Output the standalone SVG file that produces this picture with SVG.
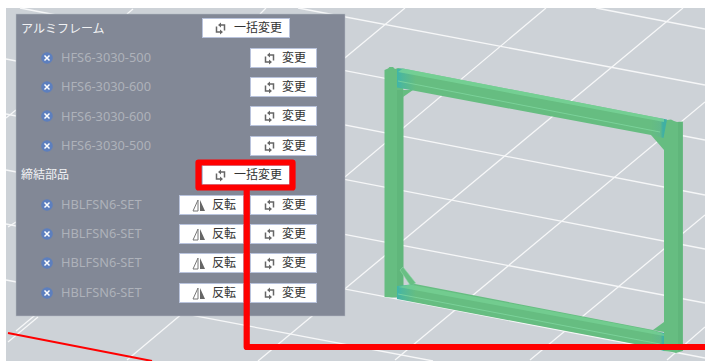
<svg xmlns="http://www.w3.org/2000/svg" width="705" height="361" viewBox="0 0 705 361">
<style>
.grid{stroke:#f6f7f8;stroke-width:1.3;fill:none}
.btn{fill:#fff;stroke:#b9c3dc;stroke-width:1}
.t{font-family:"Noto Sans CJK JP","Noto Sans",sans-serif;font-size:12px;fill:#333}
.h{font-family:"Noto Sans CJK JP","Noto Sans",sans-serif;font-size:12px;fill:#f1f2f4}
.n{font-family:"Noto Sans","Noto Sans CJK JP",sans-serif;font-size:12.8px;fill:#aeb2ba}
.post{fill:#66bd81}
.postd{fill:#60b67b}
.hl{stroke:#82d8a2;stroke-width:1;fill:none;stroke-opacity:.75}
.ic{fill:none;stroke:#666;stroke-width:1.5}
</style>
<defs>
<linearGradient id="railL" gradientUnits="userSpaceOnUse" x1="397" x2="667" y1="0" y2="0"><stop offset="0" stop-color="#3fb5a8"/><stop offset="0.02" stop-color="#4fb89a"/><stop offset="0.07" stop-color="#66bd81"/><stop offset="0.94" stop-color="#66bd81"/><stop offset="0.975" stop-color="#62b98a"/><stop offset="0.985" stop-color="#3fb0a4"/></linearGradient>
<g id="swap"><path class="ic" d="M1.500 3.500V9H5.500M9.500 7.500V2H5.500"/><path d="M5 6.500L8 9L5 11.500ZM6 -0.500L3 2L6 4.500Z" fill="#666"/></g>
<g id="flip"><path d="M6 1V12H1Z" fill="none" stroke="#777" stroke-width="1"/><path d="M8 1L13 12H8Z" fill="#666"/></g>
<g id="x"><circle r="5.800" fill="#5d7fbe"/><path d="M-2.500-2.500L2.500 2.500M2.500-2.500L-2.500 2.500" stroke="#fff" stroke-width="1.500"/></g>
</defs>
<rect x="6" y="8" width="699" height="353" fill="#cdd2d7"/>
<g id="grid" class="grid">
<path d="M596 8L705 29M298 8L705 85M20 8L705 140M6 59L705 195M6 114L705 249M6 170L705 303M6 224L705 358M6 280L433 361"/>
<path d="M6 118L16 110M133 9L127 14M266 8L260 14M405 8L16 331M546 8L127 360M683 8L258 361M705 102L395 360M705 215L530 360M705 327L667 360M8 227L16 222M38 317L8 342"/>
</g>
<path id="axis" d="M8 333L152 361" stroke="#f00" stroke-width="2" fill="none"/>
<g id="frame">
<path class="post" d="M384.500 70L388 68.500L389.500 67L393 67L395 69L398 68L403.300 69V297L392 297.500L384.500 297Z"/>
<path class="postd" d="M397 90H403.300V297H397Z"/>
<path class="post" d="M664 122L667 120L671 119.500L674 121L677 122L682.700 121.500V351L676 353L672 352L664 351Z"/>
<path class="postd" d="M678 122H682.700V351H678Z"/>
<path class="post" d="M403 97L413 90H403Z"/>
<path class="post" d="M651 135L664 150V132Z"/>
<path class="post" d="M653 330L664 322V332Z"/>
<path d="M400 270L403 267L415.700 283L410.700 286Z" fill="#69bf84" stroke="#8fd6a8" stroke-width=".6"/>
<path d="M397 69L403 68.500L667 119.500L663.500 138L651 135L397 87.500Z" fill="url(#railL)"/>
<path d="M403 68.500L664 119L664 122L398 72Z" fill="#7ad69a" opacity=".75"/>
<path class="hl" d="M398 81L660 132"/>
<path d="M397 286L415 284L653 330L664 333V351L640 345L397 299Z" fill="url(#railL)"/>
<path d="M410 284.500L655 331L664 334V336L398 287Z" fill="#7ad69a" opacity=".6"/>
<path class="hl" d="M398 294L660 344"/>
</g>
<g id="panel">
<rect x="16" y="14" width="329" height="302" fill="#828896" stroke="#b4bac4" stroke-width="0.500"/>
<text class="h" x="21" y="33">アルミフレーム</text>
<text class="h" x="21" y="179">締結部品</text>
</g>
<g id="bulk1"><rect class="btn" x="202.500" y="18.500" width="87" height="19"/><use href="#swap" x="215" y="23"/><text class="t" x="234" y="32">一括変更</text></g>
<g id="r1"><use href="#x" x="47" y="58"/><text class="n" x="61" y="62">HFS6-3030-500</text><rect class="btn" x="250.500" y="48.500" width="66" height="19"/><use href="#swap" x="264" y="53"/><text class="t" x="282" y="62">変更</text></g>
<g id="r2"><use href="#x" x="47" y="87"/><text class="n" x="61" y="91">HFS6-3030-600</text><rect class="btn" x="250.500" y="77.500" width="66" height="19"/><use href="#swap" x="264" y="82"/><text class="t" x="282" y="91">変更</text></g>
<g id="r3"><use href="#x" x="47" y="116"/><text class="n" x="61" y="120.500">HFS6-3030-600</text><rect class="btn" x="250.500" y="106.500" width="66" height="19"/><use href="#swap" x="264" y="111"/><text class="t" x="282" y="120">変更</text></g>
<g id="r4"><use href="#x" x="47" y="146"/><text class="n" x="61" y="150">HFS6-3030-500</text><rect class="btn" x="250.500" y="136.500" width="66" height="19"/><use href="#swap" x="264" y="141"/><text class="t" x="282" y="150">変更</text></g>
<g id="bulk2"><rect class="btn" x="202.500" y="165.500" width="87" height="19"/><use href="#swap" x="215" y="170"/><text class="t" x="234" y="179">一括変更</text></g>
<g id="s1"><use href="#x" x="47" y="205"/><text class="n" x="61" y="209">HBLFSN6-SET</text><rect class="btn" x="179.500" y="195.500" width="64" height="19"/><use href="#flip" x="192" y="199"/><text class="t" x="212" y="209">反転</text><rect class="btn" x="250.500" y="195.500" width="66" height="19"/><use href="#swap" x="264" y="200"/><text class="t" x="282" y="209">変更</text></g>
<g id="s2"><use href="#x" x="47" y="234"/><text class="n" x="61" y="238">HBLFSN6-SET</text><rect class="btn" x="179.500" y="224.500" width="64" height="19"/><use href="#flip" x="192" y="228"/><text class="t" x="212" y="238">反転</text><rect class="btn" x="250.500" y="224.500" width="66" height="19"/><use href="#swap" x="264" y="229"/><text class="t" x="282" y="238">変更</text></g>
<g id="s3"><use href="#x" x="47" y="263"/><text class="n" x="61" y="267">HBLFSN6-SET</text><rect class="btn" x="179.500" y="253.500" width="64" height="19"/><use href="#flip" x="192" y="257"/><text class="t" x="212" y="267">反転</text><rect class="btn" x="250.500" y="253.500" width="66" height="19"/><use href="#swap" x="264" y="258"/><text class="t" x="282" y="267">変更</text></g>
<g id="s4"><use href="#x" x="47" y="293"/><text class="n" x="61" y="297">HBLFSN6-SET</text><rect class="btn" x="179.500" y="283.500" width="64" height="19"/><use href="#flip" x="192" y="287"/><text class="t" x="212" y="297">反転</text><rect class="btn" x="250.500" y="283.500" width="66" height="19"/><use href="#swap" x="264" y="288"/><text class="t" x="282" y="297">変更</text></g>
<g id="connectors" fill="none" stroke="#f00" stroke-width="6.200" stroke-linejoin="round">
<rect x="198.500" y="162.500" width="94" height="25"/>
<path d="M246.700 187V347H705"/>
</g>
</svg>
